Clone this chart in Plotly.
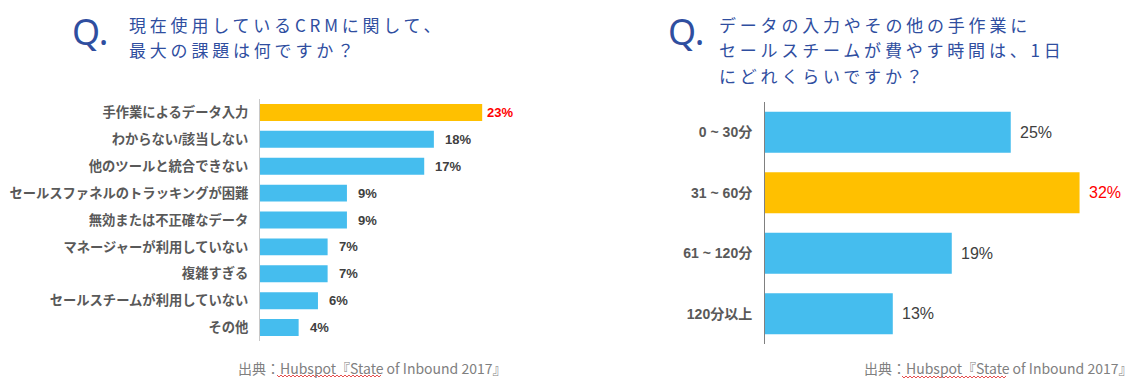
import plotly.graph_objects as go

# ---- data ----
left_categories = ["手作業によるデータ入力", "わからない/該当しない", "他のツールと統合できない",
                   "セールスファネルのトラッキングが困難", "無効または不正確なデータ",
                   "マネージャーが利用していない", "複雑すぎる", "セールスチームが利用していない", "その他"]
left_values = [23, 18, 17, 9, 9, 7, 7, 6, 4]
left_highlight = 0

right_categories = ["0 ~ 30分", "31 ~ 60分", "61 ~ 120分", "120分以上"]
right_values = [25, 32, 19, 13]
right_highlight = 1

left_title = ["現在使用しているCRMに関して、", "最大の課題は何ですか？"]
right_title = ["データの入力やその他の手作業に", "セールスチームが費やす時間は、1日", "にどれくらいですか？"]
source_text = "出典：Hubspot『State of Inbound 2017』"

# ---- style ----
W, H = 1148, 389
BLUE = "#45BDEE"
YELLOW = "#FFC000"
RED = "#FF0000"
LABEL = "#595959"
VAL = "#404040"
TITLE = "#2F4E9F"
FONT = "Liberation Sans, Noto Sans CJK JP, sans-serif"
JFONT = "Noto Sans CJK JP, sans-serif"


def px(x):
    return x / W


def py(y):
    return 1 - y / H


fig = go.Figure()

fig.add_trace(go.Bar(
    x=left_values, y=left_categories, orientation="h",
    marker=dict(color=[YELLOW if i == left_highlight else BLUE for i in range(len(left_values))], line=dict(width=0)),
    xaxis="x", yaxis="y", hoverinfo="skip"))
fig.add_trace(go.Bar(
    x=right_values, y=right_categories, orientation="h",
    marker=dict(color=[YELLOW if i == right_highlight else BLUE for i in range(len(right_values))], line=dict(width=0)),
    xaxis="x2", yaxis="y2", hoverinfo="skip", width=0.68))

annotations = []
for i, (c, v) in enumerate(zip(left_categories, left_values)):
    annotations.append(dict(
        x=v, y=c, xref="x", yref="y", text=f"{v}%", showarrow=False,
        xanchor="left", yanchor="middle", xshift=3 if i == left_highlight else 9,
        font=dict(family=FONT, size=13, color=RED if i == left_highlight else VAL, weight="bold")))
for i, (c, v) in enumerate(zip(right_categories, right_values)):
    annotations.append(dict(
        x=v, y=c, xref="x2", yref="y2", text=f"{v}%", showarrow=False,
        xanchor="left", yanchor="middle", xshift=7,
        font=dict(family=FONT, size=16, color=RED if i == right_highlight else VAL)))

# titles
for xq, xt, lines in [(72, 127, left_title), (668, 717, right_title)]:
    annotations.append(dict(
        x=px(xq - 2), y=py(31), xref="paper", yref="paper", text="Q.", showarrow=False,
        xanchor="left", yanchor="middle", font=dict(family="Noto Sans, sans-serif", size=36, color=TITLE)))
    for k, line in enumerate(lines):
        annotations.append(dict(
            x=px(xt), y=py(25 + 25 * k), xref="paper", yref="paper", text=line, showarrow=False,
            xanchor="left", yanchor="middle",
            font=dict(family=JFONT, size=17, color=TITLE)))

# sources
shapes = []
for xs, u0, u1, uy in [(236, 277, 382, 376), (862, 902, 1007, 377)]:
    annotations.append(dict(
        x=px(xs), y=py(368), xref="paper", yref="paper", text=source_text, showarrow=False,
        xanchor="left", yanchor="middle", font=dict(family=JFONT, size=14, color="#808080")))
    # red wavy spell-check underline
    pts = []
    xx = u0
    k = 0
    while xx <= u1:
        pts.append(f"{px(xx):.5f},{py(uy + (1 if k % 2 else -1)):.5f}")
        xx += 2
        k += 1
    shapes.append(dict(type="path", xref="paper", yref="paper", path="M" + " L".join(pts),
                       line=dict(color="#E02020", width=0.8)))

fig.update_layout(
    width=W, height=H, margin=dict(l=0, r=0, t=0, b=0),
    paper_bgcolor="white", plot_bgcolor="white", showlegend=False,
    bargap=0.37,
    annotations=annotations, shapes=shapes,
    xaxis=dict(domain=[px(260), px(260 + 26 * 9.66)], range=[0, 26], visible=False, fixedrange=True),
    yaxis=dict(domain=[py(341), py(99)], autorange="reversed", showline=True, linecolor="#C8C8C8", linewidth=1,
               ticks="", showgrid=False, zeroline=False, ticklabelstandoff=8,
               tickfont=dict(family=FONT, size=13.3, color=LABEL, weight="bold")),
    xaxis2=dict(domain=[px(765), px(765 + 35 * 9.83)], range=[0, 35], visible=False, fixedrange=True, anchor="y2"),
    yaxis2=dict(domain=[py(344), py(102)], autorange="reversed", showline=True, linecolor="#808080", linewidth=1,
                ticks="", showgrid=False, zeroline=False, anchor="x2", ticklabelstandoff=9,
                tickfont=dict(family=FONT, size=14, color=LABEL, weight="bold")),
)

post = """
document.body.style.margin = '0';
document.body.style.padding = '0';
document.querySelectorAll('.annotation-text').forEach(function(t){
  if (t.style.fontSize === '17px') {
    var w0 = t.getBBox().width;
    t.style.letterSpacing = '3.8px';
    var w1 = t.getBBox().width;
    var x = parseFloat(t.getAttribute('x'));
    t.setAttribute('x', x + (w1 - w0) / 2);
  }
});
"""

fig.write_html("out.html", post_script=post, config={"displayModeBar": False, "staticPlot": True})
